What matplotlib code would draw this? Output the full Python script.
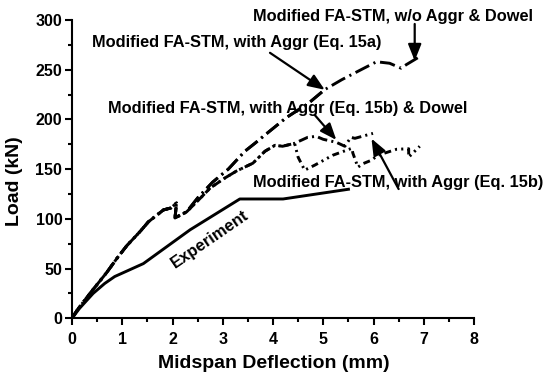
import matplotlib
matplotlib.use("Agg")
import matplotlib.pyplot as plt
from matplotlib.ticker import MultipleLocator

plt.rcParams['font.family'] = ['Liberation Sans', 'DejaVu Sans']
plt.rcParams['font.weight'] = 'bold'
plt.rcParams['lines.scale_dashes'] = False

# Experiment
exp_x = [0, 0.15, 0.42, 0.65, 0.85, 1.42, 2.35, 3.34, 4.2, 5.53]
exp_y = [0, 10, 25, 35, 42, 55, 89, 120, 120, 130]

# shared initial part of the model curves
base_x = [0, 0.1, 0.22, 0.42, 0.69, 0.89, 1.09, 1.35, 1.52, 1.82, 1.97, 2.08, 2.05, 2.28]
base_y = [0, 8, 16, 29, 46, 60, 73, 87, 97, 109, 111, 116, 101, 107]

# Modified FA-STM, w/o Aggr & Dowel
woad_x = base_x + [2.5, 2.8, 3.11, 3.44, 3.64, 3.88, 4.27, 4.7, 5.03, 5.37, 5.79, 6.06, 6.32, 6.55, 6.65, 6.88]
woad_y = base_y + [121, 137, 150, 168, 176, 186, 202, 216, 230, 240, 251, 258, 256.5, 251.5, 255, 262]

# Modified FA-STM, with Aggr (Eq. 15a)
a15a_x = base_x + [2.5, 2.8, 3.11, 3.44, 3.64, 3.88, 4.27, 4.7, 5.03]
a15a_y = base_y + [121, 137, 150, 168, 176, 186, 202, 216, 230]

# Modified FA-STM, with Aggr (Eq. 15b) & Dowel
a15bd_x = base_x + [2.5, 2.75, 3.04, 3.27, 3.6, 3.84, 4.04, 4.19, 4.43, 4.69, 4.86, 5.0, 5.26, 5.43, 5.55, 5.63, 5.99]
a15bd_y = base_y + [118, 131, 141, 148, 156, 168, 174, 173, 176, 182, 183, 180, 177, 173, 182, 181, 186]

# Modified FA-STM, with Aggr (Eq. 15b)
a15b_x = base_x + [2.5, 2.75, 3.04, 3.27, 3.6, 3.84, 4.04, 4.19, 4.43, 4.5, 4.63, 4.83, 5.19, 5.57, 5.59, 5.69, 5.79, 5.96, 6.09, 6.46, 6.7, 6.7, 6.92]
a15b_y = base_y + [118, 131, 141, 148, 156, 168, 174, 173, 176, 162, 149, 154, 164, 171, 166, 152, 155.5, 159, 164, 170, 170.5, 162, 173]

W, H = 551, 374
fig = plt.figure(figsize=(W / 100, H / 100), dpi=100)
ax = fig.add_axes([72 / W, 1 - 318.3 / H, (474 - 72) / W, (318.3 - 20) / H])

lw = 2.1
ax.plot(exp_x, exp_y, color='black', lw=lw, solid_capstyle='butt', solid_joinstyle='round')
ax.plot(woad_x, woad_y, color='black', lw=lw, dashes=(11, 3.5, 1.5, 3.5))
ax.plot(a15a_x, a15a_y, color='black', lw=lw, dashes=(11, 3.5, 1.5, 3.5))
ax.plot(a15bd_x, a15bd_y, color='black', lw=lw, dashes=(7, 3, 1.5, 3))
ax.plot(a15b_x, a15b_y, color='black', lw=lw, dashes=(5, 3, 1.5, 3, 1.5, 3))

ax.set_xlim(0, 8)
ax.set_ylim(0, 300)
for s in ['top', 'right']:
    ax.spines[s].set_visible(False)
for s in ['left', 'bottom']:
    ax.spines[s].set_linewidth(1.5)
ax.xaxis.set_major_locator(MultipleLocator(1))
ax.xaxis.set_minor_locator(MultipleLocator(0.5))
ax.yaxis.set_major_locator(MultipleLocator(50))
ax.yaxis.set_minor_locator(MultipleLocator(25))
ax.tick_params(which='major', direction='out', length=5, width=1.5, labelsize=11.5)
ax.tick_params(axis='x', which='major', pad=5)
ax.tick_params(axis='y', which='major', pad=2)
ax.tick_params(which='minor', direction='out', length=3, width=1.5)
for lab in ax.get_xticklabels() + ax.get_yticklabels():
    lab.set_fontweight('bold')

fig.text(274 / W, 1 - 364 / H, 'Midspan Deflection (mm)', ha='center', va='center',
         fontsize=14, fontweight='bold')
fig.text(15 / W, 1 - 181 / H, 'Load (kN)', ha='center', va='center', rotation=90,
         fontsize=14, fontweight='bold')

fs = 11.8
fig.text(253 / W, 1 - 17 / H, 'Modified FA-STM, w/o Aggr & Dowel', ha='left', va='center', fontsize=fs, fontweight='bold')
fig.text(92 / W, 1 - 43 / H, 'Modified FA-STM, with Aggr (Eq. 15a)', ha='left', va='center', fontsize=fs, fontweight='bold')
fig.text(108 / W, 1 - 108 / H, 'Modified FA-STM, with Aggr (Eq. 15b) & Dowel', ha='left', va='center', fontsize=fs, fontweight='bold')
fig.text(253 / W, 1 - 183 / H, 'Modified FA-STM, with Aggr (Eq. 15b)', ha='left', va='center', fontsize=fs, fontweight='bold')
fig.text(210 / W, 1 - 239.5 / H, 'Experiment', ha='center', va='center', rotation=34.5,
         fontsize=12, fontweight='bold')

ap = dict(arrowstyle='-|>,head_length=1.0,head_width=0.4', color='black', lw=1.6, shrinkA=0, shrinkB=0)
ax.annotate('', xy=(6.82, 259), xytext=(6.82, 296), arrowprops=ap)
ax.annotate('', xy=(5.03, 229.8), xytext=(3.94, 267), arrowprops=ap)
ax.annotate('', xy=(5.26, 179.4), xytext=(4.83, 204.5), arrowprops=ap)
ax.annotate('', xy=(5.96, 180.7), xytext=(6.5, 130), arrowprops=ap)

fig.savefig('out.png', dpi=100)
